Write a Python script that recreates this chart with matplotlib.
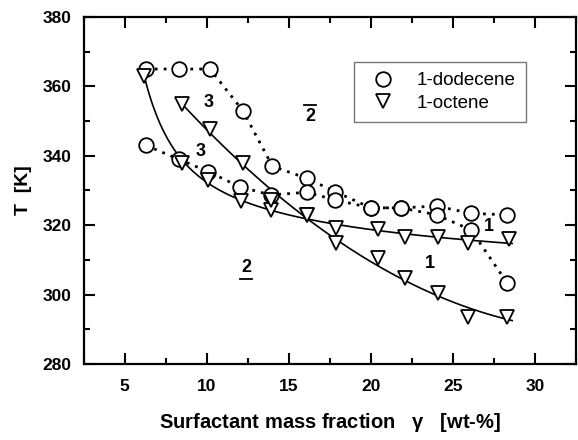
import numpy as np
import matplotlib
matplotlib.use("Agg")
import matplotlib.pyplot as plt
from matplotlib.ticker import MultipleLocator

plt.rcParams['font.family'] = ['Liberation Sans', 'DejaVu Sans']
plt.rcParams['mathtext.default'] = 'regular'

# 1-dodecene (circles), two boundaries
dod_up_x = [6.3, 8.3, 10.2, 12.2, 14.0, 16.1, 17.8, 20.0, 21.8, 24.0, 26.1, 28.3]
dod_up_y = [365, 365, 365, 353, 337, 333.5, 329.7, 325, 325, 325.5, 323.4, 323]
dod_lo_x = [6.3, 8.3, 10.1, 12.0, 13.9, 16.1, 17.8, 20.0, 21.8, 24.0, 26.1, 28.3]
dod_lo_y = [343, 339, 335.4, 331.1, 328.7, 329.5, 327.3, 325, 325, 323, 318.6, 303.3]

# 1-octene (triangles), two boundaries
oct_a_x = [6.2, 8.5, 10.1, 12.1, 13.9, 16.1, 17.9, 20.4, 22.1, 24.1, 25.9, 28.4]
oct_a_y = [363, 338, 333, 327, 324.4, 322.8, 319.1, 319, 316.5, 316.5, 315, 316]
oct_b_x = [8.5, 10.2, 12.2, 13.9, 16.1, 17.9, 20.4, 22.1, 24.1, 25.9, 28.3]
oct_b_y = [355, 347.6, 337.8, 327.3, 322.8, 314.8, 310.5, 304.7, 300.4, 293.6, 293.6]

labels = [("3", 10.1, 355.5), ("3", 9.6, 341.3), ("1", 27.2, 319.5), ("1", 23.6, 309)]

fig = plt.figure(figsize=(5.78, 4.4), dpi=100)
ax = fig.add_axes([0.1445, 0.1727, 0.8525, 0.7887])

mk = dict(markersize=10.5, markerfacecolor='white', markeredgecolor='black',
          markeredgewidth=1.3, linestyle='none', zorder=3)

# dotted lines for dodecene
ax.plot(dod_up_x, dod_up_y, color='black', lw=2, linestyle=(0, (1, 2.2)), zorder=2)
ax.plot(dod_lo_x, dod_lo_y, color='black', lw=2, linestyle=(0, (1, 2.2)), zorder=2)

# smooth fitted curves for octene
xa = np.array(oct_a_x)
ca = np.polyfit(1 / xa, oct_a_y, 3)
xs = np.linspace(6.15, 28.6, 200)
ax.plot(xs, np.polyval(ca, 1 / xs), color='black', lw=1.2, zorder=2)
cb = np.polyfit(oct_b_x, oct_b_y, 2)
xs = np.linspace(8.3, 28.6, 200)
ax.plot(xs, np.polyval(cb, xs), color='black', lw=1.2, zorder=2)

ax.plot(dod_up_x, dod_up_y, marker='o', label='1-dodecene', **mk)
ax.plot(dod_lo_x, dod_lo_y, marker='o', **mk)
ax.plot(oct_a_x, oct_a_y, marker='v', label='1-octene', **mk)
ax.plot(oct_b_x, oct_b_y, marker='v', **mk)

for t, x, y in labels:
    ax.text(x, y, t, fontsize=13, fontweight='bold', ha='center', va='center')

# phase labels: 2 with overline and 2 with underline
ax.text(16.3, 351.2, "2", fontsize=13, fontweight='bold', ha='center', va='center')
ax.plot([15.95, 16.65], [354.6, 354.6], color='black', lw=1.3)
ax.text(12.4, 307.8, "2", fontsize=13, fontweight='bold', ha='center', va='center')
ax.plot([12.05, 12.75], [304.6, 304.6], color='black', lw=1.3)

ax.set_xlim(2.5, 32.5)
ax.set_ylim(280, 380)
ax.xaxis.set_major_locator(MultipleLocator(5))
ax.xaxis.set_minor_locator(MultipleLocator(2.5))
ax.yaxis.set_major_locator(MultipleLocator(20))
ax.yaxis.set_minor_locator(MultipleLocator(10))
ax.tick_params(which='both', direction='in', top=True, right=True, width=1.5)
ax.tick_params(which='major', length=8, labelsize=12.5)
ax.tick_params(axis='x', which='major', pad=10.5)
ax.tick_params(axis='y', which='major', pad=8.5)
ax.tick_params(which='minor', length=4.5)
for lab in ax.get_xticklabels() + ax.get_yticklabels():
    lab.set_fontweight('bold')
for s in ax.spines.values():
    s.set_linewidth(1.6)

ax.set_ylabel("T  [K]", fontsize=14, fontweight='bold')
ax.yaxis.set_label_coords(-0.104, 0.5)
ax.set_xlabel(r"Surfactant mass fraction   $\gamma$   [wt-%]", fontsize=14.5,
              fontweight='bold')
ax.xaxis.set_label_coords(0.5, -0.135)

leg = ax.legend(loc='upper left', bbox_to_anchor=(0.548, 0.871), frameon=True,
                fancybox=False, edgecolor='#555555', fontsize=13.5,
                borderaxespad=0, handletextpad=0.8, borderpad=0.55,
                labelspacing=0.3, handlelength=2.0)
leg.get_frame().set_linewidth(1.0)

fig.savefig("out.png", dpi=100)
